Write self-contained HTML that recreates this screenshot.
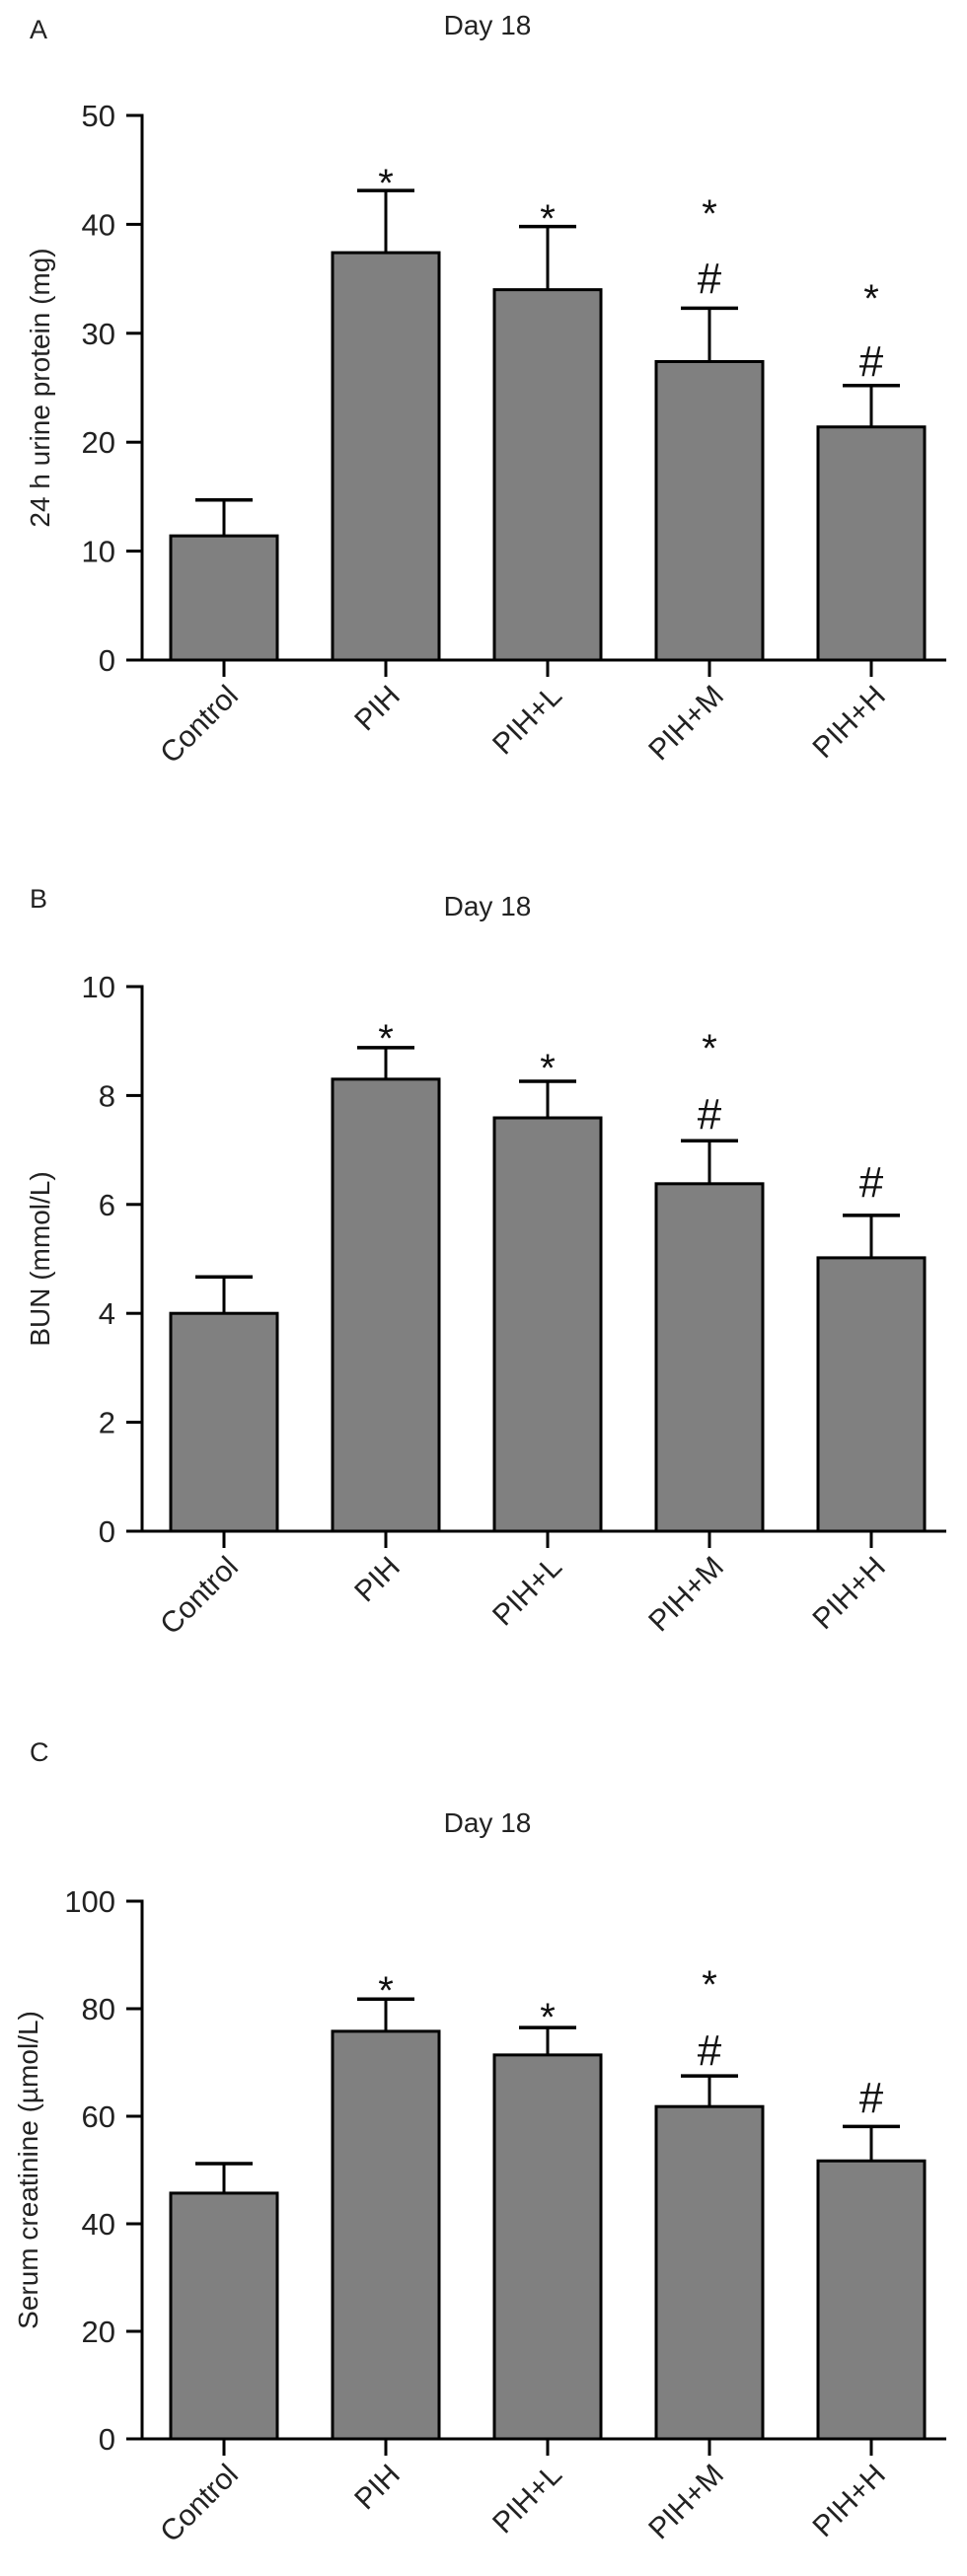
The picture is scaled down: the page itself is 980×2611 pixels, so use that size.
<!DOCTYPE html>
<html><head><meta charset="utf-8"><style>
html,body{margin:0;padding:0;background:#fff;}
svg{display:block;font-family:"Liberation Sans",Arial,sans-serif;}
</style></head><body>
<svg id="fig" width="980" height="2611" viewBox="0 0 980 2611" xmlns="http://www.w3.org/2000/svg"></svg>
<script>
const categories = ["Control","PIH","PIH+L","PIH+M","PIH+H"];
// Panel A: 24 h urine protein (mg)
const aMeans = [11.4, 37.4, 34.0, 27.4, 21.4];
const aErrs  = [3.3, 5.7, 5.8, 4.9, 3.8];
const aStars = [null, 176, 212, 207, 293];
const aHash  = [null, null, null, 281, 365];
const aTicks = [0,10,20,30,40,50];
// Panel B: BUN (mmol/L)
const bMeans = [4.0, 8.30, 7.59, 6.38, 5.02];
const bErrs  = [0.67, 0.58, 0.67, 0.79, 0.78];
const bStars = [null, 1043, 1073, 1053, null];
const bHash  = [null, null, null, 1128, 1197];
const bTicks = [0,2,4,6,8,10];
// Panel C: Serum creatinine (µmol/L)
const cMeans = [45.7, 75.8, 71.4, 61.8, 51.7];
const cErrs  = [5.5, 6.0, 5.1, 5.7, 6.4];
const cStars = [null, 2008, 2035, 2002, null];
const cHash  = [null, null, null, 2077, 2125];
const cTicks = [0,20,40,60,80,100];

const NS="http://www.w3.org/2000/svg";
const svg=document.getElementById('fig');
function mk(tag,attrs,parent,text){const e=document.createElementNS(NS,tag);for(const k in attrs)e.setAttribute(k,attrs[k]);if(text!==undefined)e.textContent=text;(parent||svg).appendChild(e);return e;}

function panel(cfg){
  const g=mk('g',{});
  
  
  const axX=144, x0=cfg.y0, yTop=cfg.yTop, max=cfg.ticks[cfg.ticks.length-1];
  const y=v=>x0-(v/max)*(x0-yTop);
  const xc=i=>227+i*164;
  const lbl=mk('text',{x:30,y:cfg.labelY+10,'font-size':27,fill:'#222'},g,cfg.letter);
  
  
  const t=mk('text',{x:494,y:cfg.titleY+10,'font-size':28,'text-anchor':'middle',fill:'#222'},g,'Day 18');
  
  
  const yt=mk('text',{x:0,y:0,'font-size':28,'text-anchor':'middle',fill:'#222',transform:`translate(${cfg.ytX+10},${(x0+yTop)/2}) rotate(-90)`},g,cfg.ytitle);
  
  
  // bars
  cfg.means.forEach((m,i)=>{
    const top=y(m), cap=y(m+cfg.errs[i]);
    const eb=mk('line',{x1:xc(i),x2:xc(i),y1:top,y2:cap,stroke:'#000','stroke-width':3},g);
    
    
    const ec=mk('line',{x1:xc(i)-29,x2:xc(i)+29,y1:cap,y2:cap,stroke:'#000','stroke-width':3.5},g);
    
    
    const r=mk('rect',{x:xc(i)-54,y:top,width:108,height:x0-top,fill:'#808080',stroke:'#000','stroke-width':3},g);
    
    
    if(cfg.stars[i]!==null){
      const s=mk('text',{x:xc(i),y:cfg.stars[i]+23,'font-size':40,'text-anchor':'middle',fill:'#111'},g,'*');
      
      
    }
    if(cfg.hash[i]!==null){
      const h=mk('text',{x:xc(i),y:cfg.hash[i]+16,'font-size':44,'text-anchor':'middle',fill:'#111'},g,'#');
      
      
    }
    const tk=mk('line',{x1:xc(i),x2:xc(i),y1:x0,y2:x0+17,stroke:'#000','stroke-width':3},g);
    
    
    const xl=mk('text',{x:0,y:0,'font-size':30,'text-anchor':'end',fill:'#222',transform:`translate(${xc(i)+16},${x0+38}) rotate(-45)`},g,categories[i]);
    
    
  });
  const ya=mk('line',{x1:axX,x2:axX,y1:yTop-1.5,y2:x0+1.5,stroke:'#000','stroke-width':3},g);
  
  
  const xa=mk('line',{x1:axX,x2:959,y1:x0,y2:x0,stroke:'#000','stroke-width':3},g);
  
  
  cfg.ticks.forEach(v=>{
    const tl=mk('line',{x1:128,x2:axX,y1:y(v),y2:y(v),stroke:'#000','stroke-width':3},g);
    
    
    const tx=mk('text',{x:117,y:y(v)+11,'font-size':31,'text-anchor':'end',fill:'#222'},g,String(v));
    
    
  });
}
panel({id:'a',letter:'A',labelY:29,titleY:25,yTop:117,y0:669,ticks:aTicks,means:aMeans,errs:aErrs,stars:aStars,hash:aHash,ytitle:'24 h urine protein (mg)',ytX:40});
panel({id:'b',letter:'B',labelY:910,titleY:918,yTop:1000,y0:1552,ticks:bTicks,means:bMeans,errs:bErrs,stars:bStars,hash:bHash,ytitle:'BUN (mmol/L)',ytX:40});
panel({id:'c',letter:'C',labelY:1775,titleY:1847,yTop:1927,y0:2472,ticks:cTicks,means:cMeans,errs:cErrs,stars:cStars,hash:cHash,ytitle:'Serum creatinine (µmol/L)',ytX:28});
</script>
</body></html>
